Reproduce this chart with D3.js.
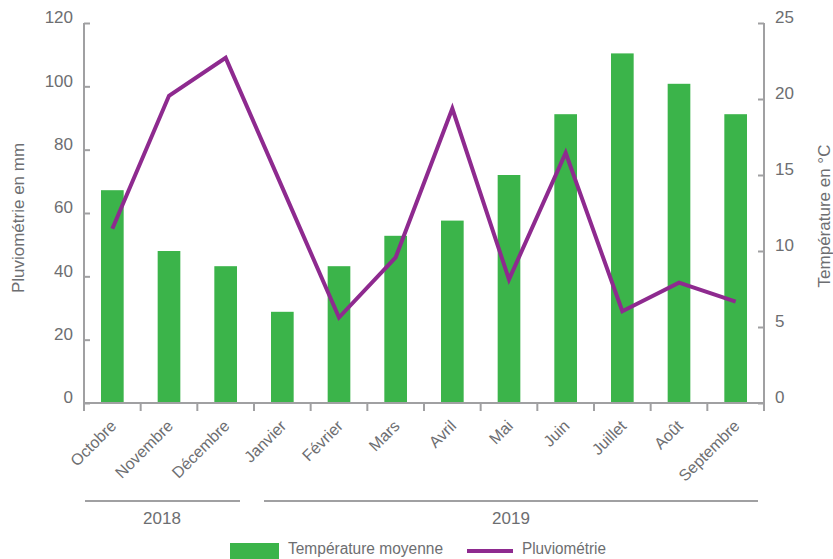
<!DOCTYPE html>
<html>
<head>
<meta charset="utf-8">
<script src="https://cdn.jsdelivr.net/npm/d3@7"></script>
<style>
  body { margin: 0; background: #fff; }
  text { font-family: "Liberation Sans Narrow", "Liberation Sans", Arial, sans-serif; fill: #6d6e71; }
</style>
</head>
<body>
<div id="chart"></div>
<script>
let months = ["Octobre", "Novembre", "Décembre", "Janvier", "Février", "Mars", "Avril", "Mai", "Juin", "Juillet", "Août", "Septembre"]
let temperature = [14, 10, 9, 6, 9, 11, 12, 15, 19, 23, 21, 19]
let pluvio = [55, 97, 109, 68, 27, 46, 93, 39, 79, 29, 38, 32]
let rainTicks = [0, 20, 40, 60, 80, 100, 120]
let tempTicks = [0, 5, 10, 15, 20, 25]
let years = [{label: "2018", from: 0, to: 3}, {label: "2019", from: 3, to: 12}]

let svg_width = 833
let svg_height = 559
let plotLeft = 84, plotRight = 764, plotTop = 23, plotBottom = 403
let axisColor = "#a0a0a2"
let green = "#3bb44a"
let purple = "#8e2a8f"

let svg = d3.select("#chart")
    .append("svg")
    .attr("width", svg_width)
    .attr("height", svg_height)

let x = d3.scaleBand()
    .domain(months)
    .range([plotLeft, plotRight])
    .paddingInner(0.6)
    .paddingOuter(0.3)

let yL = d3.scaleLinear().domain([0, 120]).range([plotBottom, plotTop])
let yR = d3.scaleLinear().domain([0, 25]).range([plotBottom, plotTop])

// boundaries between months, used for x ticks and year lines
let edge = i => plotLeft + i * x.step()

// bars (temperature, right axis)
svg.selectAll("rect.bar")
    .data(temperature)
    .enter()
    .append("rect")
    .attr("class", "bar")
    .attr("x", (d, i) => x(months[i]))
    .attr("y", d => yR(d))
    .attr("width", x.bandwidth())
    .attr("height", d => yR(0) - yR(d))
    .attr("fill", green)

// line (pluviometrie, left axis)
let line = d3.line()
    .x((d, i) => x(months[i]) + x.bandwidth() / 2)
    .y(d => yL(d))

svg.append("path")
    .datum(pluvio)
    .attr("d", line)
    .attr("fill", "none")
    .attr("stroke", purple)
    .attr("stroke-width", 4)
    .attr("stroke-linejoin", "miter")

// left axis
let gL = svg.append("g")
    .attr("transform", `translate(${plotLeft},0)`)
    .call(d3.axisLeft(yL).tickValues(rainTicks).tickSize(-6).tickPadding(11))
gL.select(".domain").remove()

// right axis
let gR = svg.append("g")
    .attr("transform", `translate(${plotRight},0)`)
    .call(d3.axisRight(yR).tickValues(tempTicks).tickSize(-6).tickPadding(11))
gR.select(".domain").remove()

svg.selectAll(".tick line").attr("stroke", axisColor).attr("stroke-width", 2)
svg.selectAll(".tick text")
    .attr("dy", "-0.02em")
    .style("font-size", "17px")
    .style("fill", "#6d6e71")

// axis lines
svg.append("line")
    .attr("x1", plotLeft).attr("x2", plotLeft).attr("y1", plotTop).attr("y2", plotBottom + 8)
    .attr("stroke", axisColor).attr("stroke-width", 2)
svg.append("line")
    .attr("x1", plotRight).attr("x2", plotRight).attr("y1", plotTop).attr("y2", plotBottom + 8)
    .attr("stroke", axisColor).attr("stroke-width", 2)
svg.append("line")
    .attr("x1", plotLeft).attr("x2", plotRight).attr("y1", plotBottom).attr("y2", plotBottom)
    .attr("stroke", axisColor).attr("stroke-width", 2)

svg.selectAll("line.xtick")
    .data(d3.range(months.length + 1))
    .enter()
    .append("line")
    .attr("class", "xtick")
    .attr("x1", d => edge(d)).attr("x2", d => edge(d))
    .attr("y1", plotBottom).attr("y2", plotBottom + 8)
    .attr("stroke", axisColor).attr("stroke-width", 2)

// month labels
svg.selectAll("text.month")
    .data(months)
    .enter()
    .append("text")
    .attr("class", "month")
    .attr("transform", d => `translate(${x(d) + x.bandwidth() / 2 + 5},427) rotate(-45)`)
    .style("text-anchor", "end")
    .style("font-size", "16px")
    .text(d => d)

// year groups
svg.selectAll("line.year")
    .data(years)
    .enter()
    .append("line")
    .attr("class", "year")
    .attr("x1", d => edge(d.from) + (d.from == 0 ? 1 : 10))
    .attr("x2", d => edge(d.to) - (d.to == 3 ? 14 : 6))
    .attr("y1", 501).attr("y2", 501)
    .attr("stroke", axisColor).attr("stroke-width", 2)

svg.selectAll("text.year")
    .data(years)
    .enter()
    .append("text")
    .attr("class", "year")
    .attr("x", d => d.from == 0 ? 162 : 511)
    .attr("y", 524)
    .style("text-anchor", "middle")
    .style("font-size", "17px")
    .text(d => d.label)

// axis titles
svg.append("text")
    .attr("transform", "translate(24,218) rotate(-90)")
    .style("text-anchor", "middle")
    .style("font-size", "17px")
    .text("Pluviométrie en mm")

svg.append("text")
    .attr("transform", "translate(830,216) rotate(-90)")
    .style("text-anchor", "middle")
    .style("font-size", "17px")
    .text("Température en °C")

// legend
let legend = svg.append("g")
legend.append("rect")
    .attr("x", 230).attr("y", 543).attr("width", 49).attr("height", 16)
    .attr("fill", green)
legend.append("text")
    .attr("x", 288).attr("y", 554)
    .style("font-size", "16px")
    .attr("textLength", 155)
    .attr("lengthAdjust", "spacingAndGlyphs")
    .text("Température moyenne")
legend.append("line")
    .attr("x1", 467).attr("x2", 513).attr("y1", 551).attr("y2", 551)
    .attr("stroke", purple).attr("stroke-width", 4)
legend.append("text")
    .attr("x", 522).attr("y", 554)
    .style("font-size", "16px")
    .attr("textLength", 84)
    .attr("lengthAdjust", "spacingAndGlyphs")
    .text("Pluviométrie")
</script>
</body>
</html>
